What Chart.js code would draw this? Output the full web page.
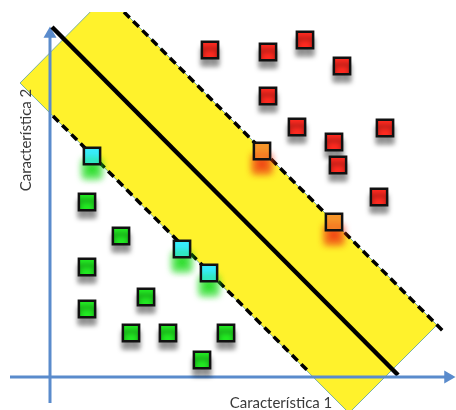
<!DOCTYPE html>
<html>
<head>
<meta charset="utf-8">
<script src="https://cdn.jsdelivr.net/npm/chart.js@4"></script>
<style>
  body { margin: 0; background: #fff; }
  #wrap { position: relative; width: 456px; height: 410px; }
</style>
</head>
<body>
<div id="wrap"><canvas id="myChart" width="456" height="410"></canvas></div>
<script>
// feature space: origin where the two axes cross
var redPts = [[160,327],[218,325],[255,337],[292,311],[218,281],[247,250],[284,235],[335,249],[288,212],[329,180]];
var orangePts = [[212,226],[284,155]];
var cyanPts = [[42,221],[132,128],[159,104]];
var greenPts = [[37,175],[71,141],[37,110],[96,80],[37,68],[81,44],[118,44],[176,44],[152,17]];
var hyperplane = [[2,350],[348,2]];
var upperMargin = [[74,365],[395,44]];
var lowerMargin = [[3,261],[260,4]];
var band = [[-30,294],[57,382],[387,52],[299,-36],[-30,294]];
var xAxisLine = [[-40,0],[398,0]];
var yAxisLine = [[0,-26],[0,343]];
var xLabel = 'Característica 1';
var yLabel = 'Característica 2';

function toXY(arr){
  return arr.map(function(p){ return {x:p[0], y:p[1]}; });
}

// shadow / glow under the squares
var glow = {
  red: ['rgba(0,0,0,0.45)', 7, 5],
  green: ['rgba(0,0,0,0.45)', 7, 5],
  cyan: ['rgba(30,220,30,0.9)', 13, 7],
  orange: ['rgba(240,60,20,0.9)', 13, 7]
};

var shadowPlugin = {
  id: 'shadows',
  beforeDatasetDraw: function(chart, args){
    var g = glow[args.meta._dataset.glow];
    var ctx = chart.ctx;
    ctx.save();
    if(g){
      ctx.shadowColor = g[0];
      ctx.shadowOffsetY = g[1];
      ctx.shadowBlur = g[2];
    }
  },
  afterDatasetDraw: function(chart){
    chart.ctx.restore();
  }
};

var labelPlugin = {
  id: 'labels',
  afterDraw: function(chart){
    var ctx = chart.ctx;
    ctx.save();
    ctx.fillStyle = '#3a3a3a';
    ctx.font = '15px Lato';
    ctx.textAlign = 'center';
    ctx.textBaseline = 'alphabetic';
    ctx.fillText(xLabel, 281, 408);
    ctx.translate(31, 140);
    ctx.rotate(-Math.PI/2);
    ctx.fillText(yLabel, 0, 0);
    ctx.restore();
  }
};

function squares(pts, color, tag){
  return {
    data: toXY(pts),
    glow: tag,
    showLine: false,
    pointStyle: 'rect',
    pointRadius: 11.5,
    pointHoverRadius: 11.5,
    pointBackgroundColor: color,
    pointBorderColor: '#111',
    pointBorderWidth: 2.5,
    order: 1
  };
}

const ctx = document.getElementById('myChart').getContext('2d');
const myChart = new Chart(ctx, {
  type: 'scatter',
  data: {
    datasets: [
      squares(redPts, '#ff2a20', 'red'),
      squares(greenPts, '#22ea22', 'green'),
      squares(cyanPts, '#38ecfb', 'cyan'),
      squares(orangePts, '#f7962a', 'orange'),
      {
        data: toXY(hyperplane), showLine: true, borderColor: '#000', borderWidth: 4.5,
        pointRadius: 0, borderCapStyle: 'butt', order: 3
      },
      {
        data: toXY(upperMargin), showLine: true, borderColor: '#000', borderWidth: 3.5,
        borderDash: [8, 5], pointRadius: 0, order: 4
      },
      {
        data: toXY(lowerMargin), showLine: true, borderColor: '#000', borderWidth: 3.5,
        borderDash: [8, 5], pointRadius: 0, order: 4
      },
      {
        data: toXY(xAxisLine), showLine: true, borderColor: '#5a8bcc', borderWidth: 3,
        pointRadius: [0, 7.5], pointStyle: 'triangle', rotation: 90,
        pointBackgroundColor: '#5a8bcc', pointBorderWidth: 0, order: 2
      },
      {
        data: toXY(yAxisLine), showLine: true, borderColor: '#5a8bcc', borderWidth: 3,
        pointRadius: [0, 7.5], pointStyle: 'triangle', rotation: 0,
        pointBackgroundColor: '#5a8bcc', pointBorderWidth: 0, order: 5
      },
      {
        data: toXY(band), showLine: true, fill: 'shape', backgroundColor: '#fff22c',
        borderColor: 'rgba(110,170,160,0.9)', borderWidth: 1, pointRadius: 0,
        tension: 0, order: 10
      }
    ]
  },
  options: {
    responsive: false,
    animation: false,
    layout: { autoPadding: false, padding: { top: 12, left: 0, right: 0, bottom: 0 } },
    plugins: { legend: { display: false }, tooltip: { enabled: false } },
    scales: {
      x: { type: 'linear', min: -50, max: 406, display: false },
      y: { type: 'linear', min: -33, max: 365, display: false }
    }
  },
  plugins: [shadowPlugin, labelPlugin]
});
</script>
</body>
</html>
